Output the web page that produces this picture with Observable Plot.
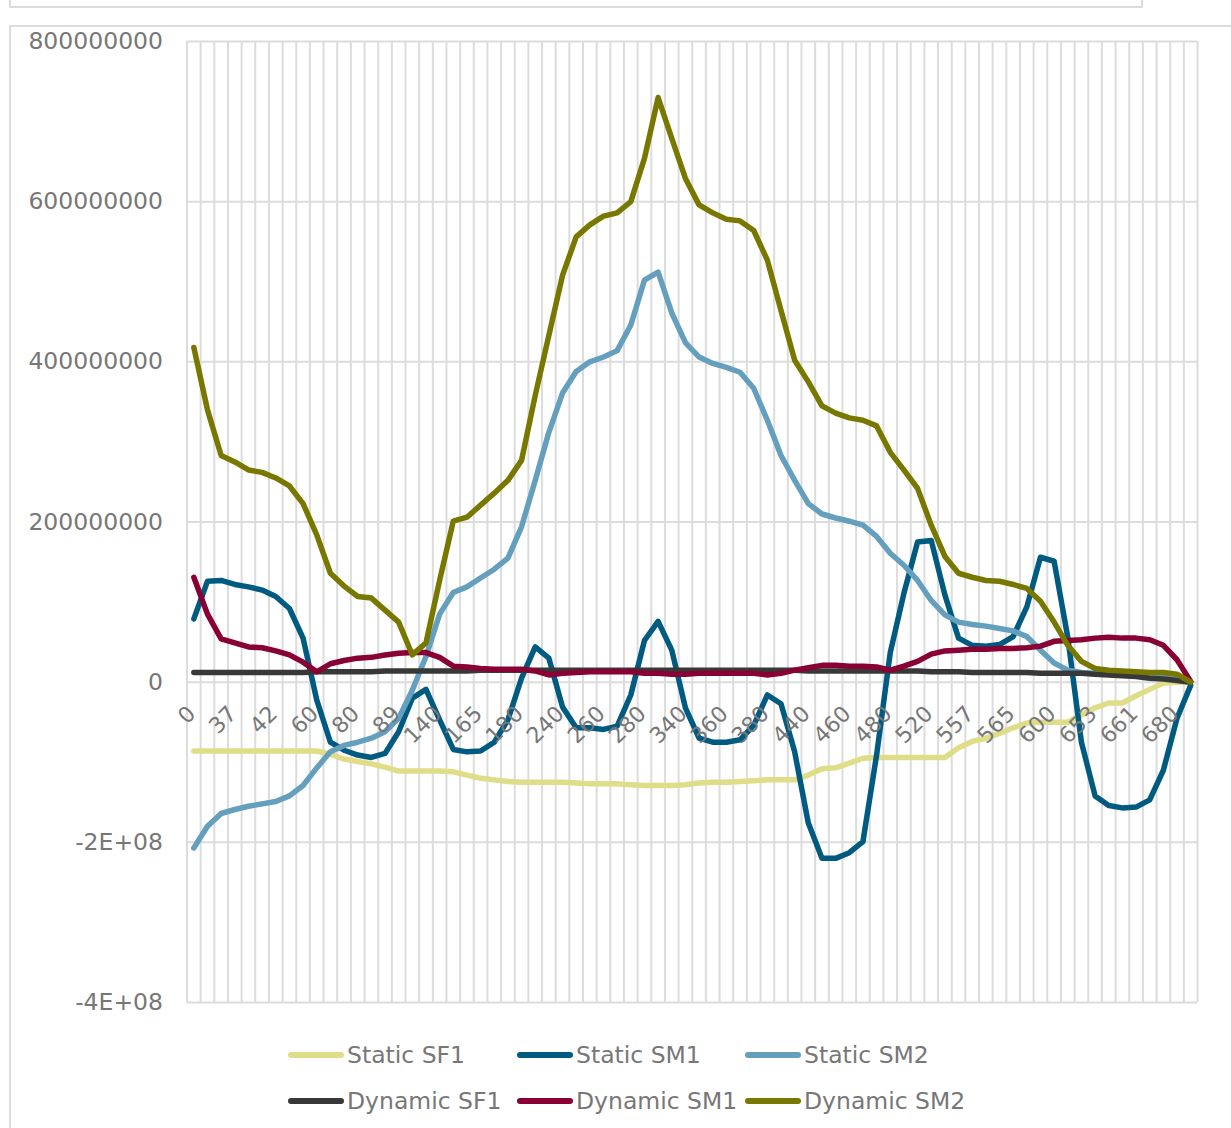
<!DOCTYPE html>
<html>
<head>
<meta charset="utf-8">
<script src="https://cdn.jsdelivr.net/npm/d3@7"></script>
<script src="https://cdn.jsdelivr.net/npm/@observablehq/plot@0.6"></script>
<style>
  html, body { margin: 0; padding: 0; background: #fff; }
  #wrap { position: relative; width: 1231px; height: 1128px; overflow: hidden; font-family: "DejaVu Sans", Verdana, sans-serif; }
  .box { position: absolute; border: 2px solid #dcdcdc; box-sizing: border-box; }
  #chart { position: absolute; left: 0; top: 0; }
  #chart svg g[aria-label="text"] { font-size: 22px !important; }
  #chart svg g[aria-label="text"] text { font-size: 22px !important; }
  .lg { position: absolute; display: flex; align-items: center; color: #777; font-size: 23.5px; white-space: nowrap; }
  .lg .sw { width: 56px; height: 5.5px; border-radius: 3px; margin-right: 3px; }
</style>
</head>
<body>
<div id="wrap">
  <div class="box" style="left:9px; top:-12px; width:1134px; height:20px;"></div>
  <div class="box" style="left:9px; top:25px; width:1250px; height:1200px;"></div>
  <div id="chart"></div>
  <div id="legend"></div>
</div>
<script>
// x tick labels (every third category of 74)
const xTickLabels = ["0","37","42","60","80","89","140","165","180","240","260","280","340","360","380","440","460","480","520","557","565","600","653","661","680"];
const nCategories = 74;

// y ticks (millions) and their labels as shown
const yTicks = [-400, -200, 0, 200, 400, 600, 800];
const yTickLabels = ["-4E+08", "-2E+08", "0", "200000000", "400000000", "600000000", "800000000"];

// series values in millions
const staticSF1 = [-86,-86,-86,-86,-86,-86,-86,-86,-86,-86,-90,-96,-99,-102,-106,-111,-111,-111,-111,-112,-116,-120,-122,-124,-125,-125,-125,-125,-126,-127,-127,-127,-128,-129,-129,-129,-128,-126,-125,-125,-124,-123,-122,-122,-122,-116,-108,-107,-101,-95,-94,-94,-94,-94,-94,-94,-82,-74,-70,-64,-57,-51,-50,-50,-50,-41,-32,-26,-26,-17,-9,-1,0,0];
const staticSM1 = [79,126,127,122,119,115,107,92,55,-22,-75,-85,-91,-94,-89,-62,-20,-9,-47,-84,-87,-86,-75,-47,5,44,30,-31,-57,-57,-59,-55,-16,52,76,40,-32,-70,-75,-75,-72,-54,-16,-27,-87,-176,-220,-220,-213,-199,-91,37,111,175,177,109,55,46,45,47,57,94,156,151,56,-75,-142,-154,-157,-156,-147,-110,-45,-4];
const staticSM2 = [-207,-180,-164,-159,-155,-152,-149,-142,-129,-107,-87,-79,-75,-70,-62,-45,-10,32,85,112,119,130,141,155,194,252,312,361,388,400,406,414,446,502,512,461,424,406,398,393,387,367,327,283,252,223,210,205,201,196,182,161,146,127,102,84,75,72,70,67,64,57,40,24,15,12,11,10,9,9,8,7,6,0];
const dynamicSF1 = [12,12,12,12,12,12,12,12,12,13,13,13,13,13,14,14,14,14,14,14,14,15,15,15,15,15,15,15,15,15,15,15,15,15,15,15,15,15,15,15,15,15,15,15,15,14,14,14,14,14,14,14,14,14,13,13,13,12,12,12,12,12,11,11,11,11,10,9,8,7,5,4,2,0];
const dynamicSM1 = [131,85,54,49,44,43,39,34,25,13,23,27,30,31,34,36,37,37,31,20,19,17,16,16,16,14,9,11,12,13,13,13,13,11,11,10,10,11,11,11,11,11,9,11,15,18,21,21,20,20,19,15,20,26,35,39,40,41,41,42,42,43,45,51,52,53,55,56,55,55,53,46,28,1];
const dynamicSM2 = [418,340,283,275,265,262,255,245,223,184,136,120,107,105,90,75,34,49,127,201,206,221,236,252,277,358,433,508,556,571,582,586,600,654,730,679,629,596,586,578,576,564,527,464,402,375,345,336,330,327,320,287,265,242,196,157,136,131,127,126,122,117,101,75,46,26,17,15,14,13,12,12,10,0];

const seriesNames = ["Static SF1", "Static SM1", "Static SM2", "Dynamic SF1", "Dynamic SM1", "Dynamic SM2"];
const seriesColors = ["#dfdd87", "#015a80", "#649fbe", "#383838", "#890034", "#787800"];
const seriesValues = [staticSF1, staticSM1, staticSM2, dynamicSF1, dynamicSM1, dynamicSM2];

const gridColor = "#dcdcdc";
const textColor = "#777";

const chart = Plot.plot({
  width: 1231,
  height: 1030,
  marginLeft: 186.5,
  marginRight: 34,
  marginTop: 41,
  marginBottom: 28,
  style: { fontFamily: "DejaVu Sans, Verdana, sans-serif", fontSize: "23.5px", color: textColor, background: "transparent" },
  x: { domain: [-0.5, nCategories - 0.5], axis: null },
  y: { domain: [-400, 800], axis: null },
  marks: [
    Plot.ruleX(d3.range(nCategories + 1), { x: d => d - 0.5, stroke: gridColor, strokeWidth: 2 }),
    Plot.ruleY(yTicks, { stroke: gridColor, strokeWidth: 2 }),
    Plot.axisY({ ticks: yTicks, tickFormat: (d) => yTickLabels[yTicks.indexOf(d)], tickSize: 0, tickPadding: 24, fontSize: 23.5, fill: textColor }),
    ...seriesValues.map((vals, k) =>
      Plot.lineY(vals, { x: (d, i) => i, y: d => d, stroke: seriesColors[k], strokeWidth: 5.5, strokeLinejoin: "round", strokeLinecap: "round", curve: "linear" })
    ),
    Plot.text(xTickLabels, { x: (d, i) => i * 3, y: () => 0, text: d => d, rotate: -45, textAnchor: "end", lineAnchor: "middle", dy: 28, dx: -2, fill: textColor, fontSize: "22px" })
  ]
});
document.getElementById("chart").appendChild(chart);

// legend (HTML, below the SVG)
const legend = document.getElementById("legend");
const colLeft = [288, 517, 745];
const rowTop = [1055, 1101];
seriesNames.forEach((name, k) => {
  const el = document.createElement("div");
  el.className = "lg";
  el.style.left = colLeft[k % 3] + "px";
  el.style.top = (rowTop[Math.floor(k / 3)] - 15) + "px";
  el.style.height = "30px";
  const sw = document.createElement("span");
  sw.className = "sw";
  sw.style.background = seriesColors[k];
  const tx = document.createElement("span");
  tx.textContent = name;
  el.appendChild(sw);
  el.appendChild(tx);
  legend.appendChild(el);
});
</script>
</body>
</html>
